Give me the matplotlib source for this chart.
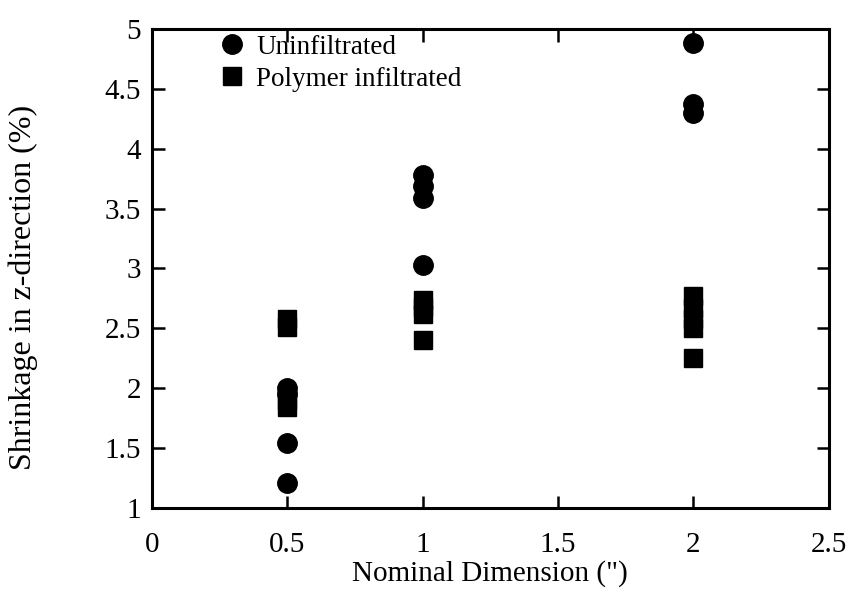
import matplotlib
matplotlib.use("Agg")
import matplotlib.pyplot as plt

plt.rcParams['font.family'] = ['Liberation Serif', 'DejaVu Serif']

# Data
uninf_x = [0.5, 0.5, 0.5, 0.5, 1, 1, 1, 1, 2, 2, 2]
uninf_y = [1.21, 1.54, 1.95, 2.00, 3.03, 3.59, 3.69, 3.78, 4.30, 4.37, 4.88]
poly_x = [0.5, 0.5, 0.5, 0.5, 1, 1, 1, 1, 2, 2, 2, 2, 2]
poly_y = [1.84, 1.90, 2.51, 2.58, 2.40, 2.62, 2.68, 2.74, 2.25, 2.50, 2.58, 2.67, 2.77]

x_ticks = [0, 0.5, 1, 1.5, 2, 2.5]
x_ticklabels = ['0', '0.5', '1', '1.5', '2', '2.5']
y_ticks = [1, 1.5, 2, 2.5, 3, 3.5, 4, 4.5, 5]
y_ticklabels = ['1', '1.5', '2', '2.5', '3', '3.5', '4', '4.5', '5']

fig = plt.figure(figsize=(8.49, 5.89), dpi=100)
ax = fig.add_axes([0.179, 0.1375, 0.797, 0.8135])

ax.plot(uninf_x, uninf_y, linestyle='none', marker='o', markersize=14,
        color='black', label='Uninfiltrated')
ax.plot(poly_x, poly_y, linestyle='none', marker='s', markersize=13,
        color='black', label='Polymer infiltrated')

ax.set_xlim(0, 2.5)
ax.set_ylim(1, 5)
ax.set_xticks(x_ticks)
ax.set_xticklabels(x_ticklabels)
ax.set_yticks(y_ticks)
ax.set_yticklabels(y_ticklabels)
ax.tick_params(direction='in', top=True, right=True, length=9, width=1.8,
               labelsize=21)
ax.tick_params(axis='x', pad=17)
ax.tick_params(axis='y', pad=8)
for s in ax.spines.values():
    s.set_linewidth(2.2)

ax.set_xlabel('Nominal Dimension (")', fontsize=21)
ax.xaxis.set_label_coords(0.5, -0.137)
ax.xaxis.label.set_verticalalignment('center')
ax.set_ylabel('Shrinkage in z-direction (%)', fontsize=23)
ax.yaxis.set_label_coords(-0.19, 0.46)
ax.yaxis.label.set_verticalalignment('center')

leg = ax.legend(loc='upper left', bbox_to_anchor=(0.078, 1.01), frameon=False,
                fontsize=19.5, handletextpad=0.3, borderaxespad=0.0,
                labelspacing=0.25, markerscale=1.0, handlelength=1.2)

fig.savefig('out.png', dpi=100)
